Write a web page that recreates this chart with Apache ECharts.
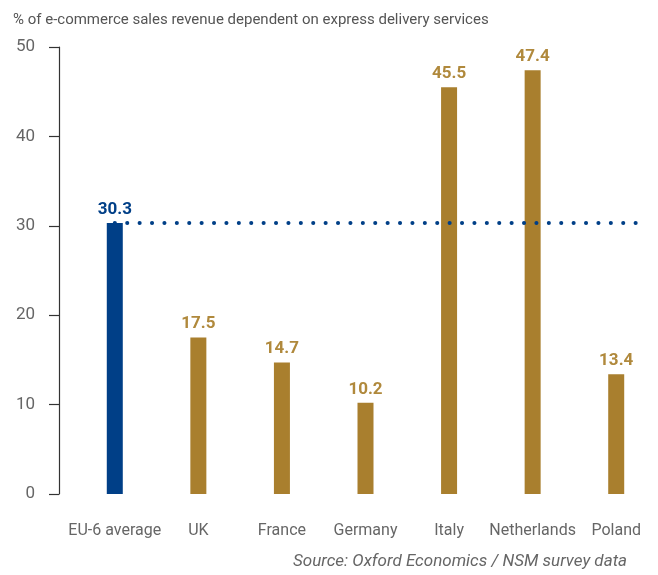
<!DOCTYPE html>
<html>
<head>
<meta charset="utf-8">
<script src="https://cdn.jsdelivr.net/npm/echarts@6/dist/echarts.min.js"></script>
<style>
  html, body { margin: 0; padding: 0; background: #fff; }
  #chart { width: 658px; height: 575px; }
</style>
</head>
<body>
<div id="chart"></div>
<script>
// data
var categories = ['EU-6 average', 'UK', 'France', 'Germany', 'Italy', 'Netherlands', 'Poland'];
var values = [30.3, 17.5, 14.7, 10.2, 45.5, 47.4, 13.4];
var yTicks = [0, 10, 20, 30, 40, 50];
// dotted average line, x in category units (0 = first bar centre)
var avgLineX = [0, 6.25];
var avgValue = values[0];

var blue = '#003f87';
var gold = '#a97f2e';
var grey = '#666666';

var myChart = echarts.init(document.getElementById('chart'));

var barData = values.map(function (v, i) {
  var c = i === 0 ? blue : gold;
  return {
    value: v,
    itemStyle: { color: c },
    label: { color: i === 0 ? blue : '#b0893c' }
  };
});

var option = {
  animation: false,
  textStyle: { fontFamily: 'Roboto, "Liberation Sans", sans-serif' },
  graphic: [
    {
      type: 'text',
      left: 13,
      top: 13,
      style: {
        text: '% of e-commerce sales revenue dependent on express delivery services',
        fill: '#555555',
        font: '15px Roboto, "Liberation Sans", sans-serif'
      }
    },
    {
      type: 'text',
      right: 31,
      top: 553,
      style: {
        text: 'Source: Oxford Economics / NSM survey data',
        fill: grey,
        font: 'italic 17px Roboto, "Liberation Sans", sans-serif'
      }
    }
  ],
  grid: {
    left: 73,
    right: 0,
    top: 47,
    bottom: 81
  },
  xAxis: [
    {
      type: 'category',
      data: categories,
      axisLine: { show: false },
      axisTick: { show: false },
      axisLabel: {
        color: grey,
        fontSize: 16,
        margin: 29,
        interval: 0
      }
    },
    {
      type: 'value',
      show: false,
      min: -0.5,
      max: categories.length - 0.5
    }
  ],
  yAxis: {
    type: 'value',
    min: yTicks[0],
    max: yTicks[yTicks.length - 1],
    interval: 10,
    offset: 14,
    splitLine: { show: false },
    axisLine: { show: true, onZero: false, lineStyle: { color: '#333333', width: 1.2 } },
    axisTick: { show: true, length: 10, lineStyle: { color: '#333333', width: 1.2 } },
    axisLabel: { color: grey, fontSize: 17, margin: 24 }
  },
  series: [
    {
      type: 'bar',
      barWidth: 16,
      data: barData,
      label: {
        show: true,
        position: 'top',
        distance: 5,
        fontSize: 17,
        fontWeight: 'bold'
      },
      z: 2
    },
    {
      type: 'line',
      xAxisIndex: 1,
      symbol: 'none',
      data: avgLineX.map(function (x) { return [x, avgValue]; }),
      lineStyle: {
        color: blue,
        width: 4,
        type: [0.1, 12.3],
        cap: 'round'
      },
      z: 5
    }
  ]
};

myChart.setOption(option);
</script>
</body>
</html>
